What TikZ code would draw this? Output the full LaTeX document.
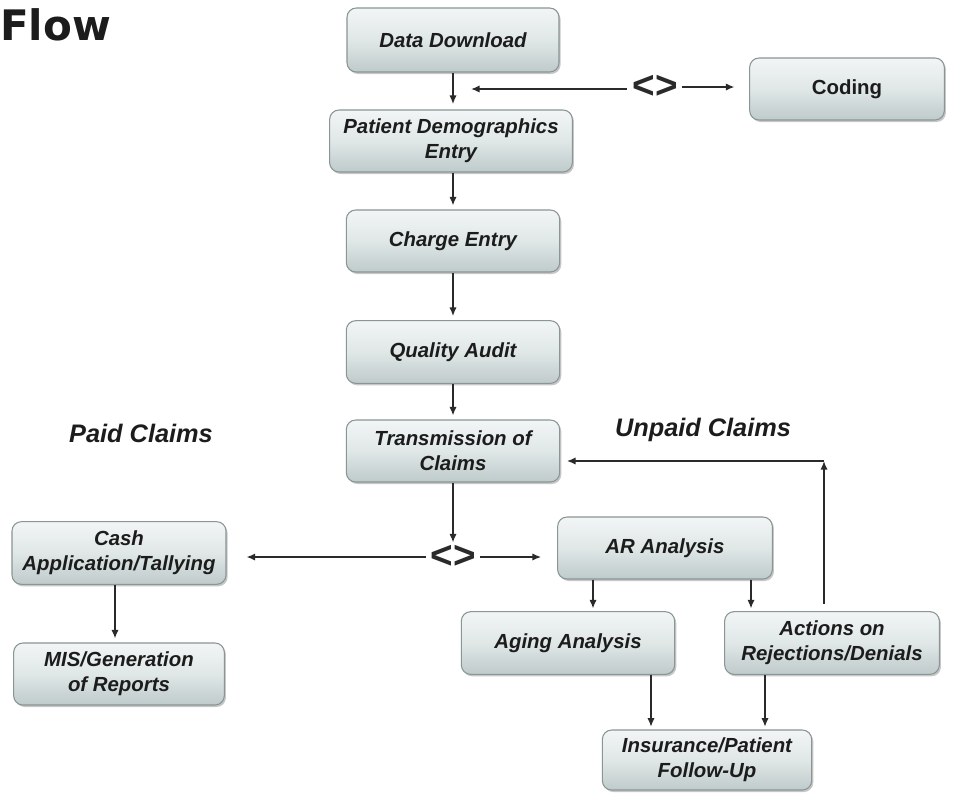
\documentclass[tikz,border=0pt]{standalone}
\usepackage{fontspec}
\setmainfont{Liberation Sans}
\newfontfamily\titlefont{DejaVu Sans}
\usetikzlibrary{shadows,arrows.meta}
\definecolor{boxtop}{HTML}{F2F5F5}
\definecolor{boxmid}{HTML}{E0E7E7}
\definecolor{boxbot}{HTML}{BFCACA}
\definecolor{boxedge}{HTML}{8A9595}
\definecolor{linec}{HTML}{2A2A2A}
\definecolor{txt}{HTML}{1C1C1C}
\begin{document}
\begin{tikzpicture}[x=0.75pt,y=-0.75pt,
  box/.style={rounded corners=7pt, draw=boxedge, line width=0.8pt,
    top color=boxtop, bottom color=boxbot, middle color=boxmid,
    drop shadow={shadow xshift=1.2pt, shadow yshift=-1.5pt, opacity=0.22, fill=black},
    inner sep=0pt, align=center, text=txt,
    font=\fontsize{15.3}{18.5}\selectfont\bfseries\itshape},
  lbl/.style={inner sep=0pt, text=txt, font=\fontsize{19}{22}\selectfont\bfseries\itshape},
  chev/.style={inner sep=0pt, text=linec, font=\fontsize{29}{29}\selectfont\bfseries},
  arr/.style={draw=linec, line width=1.2pt, -{Latex[length=6.5pt,width=5.5pt]}},
  ln/.style={draw=linec, line width=1.2pt}]
\useasboundingbox (0,0) rectangle (959,794);
\fill[white] (0,0) rectangle (959,794);

% title
\node[inner sep=0pt, anchor=base west, text=txt, font=\titlefont\fontsize{31.5}{34}\selectfont\bfseries] (title) at (0,40) {Flow};

% main column
\node[box, minimum width=159pt, minimum height=48pt] (dd) at (453,40) {Data Download};
\node[box, minimum width=182pt, minimum height=46.5pt] (pde) at (451,141) {Patient Demographics\\Entry};
\node[box, minimum width=160pt, minimum height=46.5pt] (ce) at (453,241) {Charge Entry};
\node[box, minimum width=160pt, minimum height=47pt] (qa) at (453,352) {Quality Audit};
\node[box, minimum width=160pt, minimum height=46.5pt] (tc) at (453,451) {Transmission of\\Claims};

% coding
\node[chev] (d1) at (655,87) {<>};
\node[box, minimum width=146pt, minimum height=46.5pt, font=\fontsize{15.3}{18.5}\selectfont\bfseries] (cod) at (847,89) {Coding};
\coordinate (j1) at (471,89);

% paid claims
\node[lbl] (paid) at (141,433) {Paid Claims};
\node[box, minimum width=160.5pt, minimum height=47pt] (cash) at (119,553) {Cash\\Application/Tallying};
\node[box, minimum width=158pt, minimum height=46.5pt] (mis) at (119,674) {MIS/Generation\\of Reports};

% unpaid claims
\node[lbl] (unpaid) at (703,430) {Unpaid Claims};
\node[chev] (d2) at (453,557) {<>};
\node[box, minimum width=161pt, minimum height=46.5pt] (ar) at (665,548) {AR Analysis};
\node[box, minimum width=160pt, minimum height=47pt] (aging) at (568,643) {Aging Analysis};
\node[box, minimum width=161pt, minimum height=47pt] (act) at (832,643) {Actions on\\Rejections/Denials};
\node[box, minimum width=157pt, minimum height=45pt] (ins) at (707,760) {Insurance/Patient\\Follow-Up};
\coordinate (corner) at (824,461);

% connectors main column
\draw[arr, shorten >=4pt] (dd.south) -- (pde.north -| dd.south);
\draw[arr, shorten >=3pt] (pde.south -| dd.south) -- (ce.north);
\draw[arr, shorten >=3pt] (ce.south) -- (qa.north);
\draw[arr, shorten >=3pt] (qa.south) -- (tc.north);
\draw[arr, shorten >=2pt] (tc.south) -- (d2.north);

% coding connectors
\draw[arr, shorten <=4pt] (d1.west |- j1) -- (j1);
\draw[arr, shorten <=3pt, shorten >=11pt] (d1.east) -- (cod.west |- d1.east);

% split
\draw[arr, shorten <=3pt, shorten >=15pt] (d2.west) -- (cash.east |- d2.west);
\draw[arr, shorten <=3pt, shorten >=12pt] (d2.east) -- (ar.west |- d2.east);
\draw[arr, shorten >=3pt] (cash.south -| 115,0) -- (mis.north -| 115,0);

% AR branches
\draw[arr, shorten >=2pt] (ar.south -| 593,0) -- (aging.north -| 593,0);
\draw[arr, shorten >=2pt] (ar.south -| 751,0) -- (act.north -| 751,0);
\draw[arr, shorten >=2pt] (aging.south -| 651,0) -- (ins.north -| 651,0);
\draw[arr, shorten >=2pt] (act.south -| 765,0) -- (ins.north -| 765,0);

% loop back
\draw[arr] (act.north -| corner) ++(0,-7) -- (corner);
\draw[arr, shorten >=5pt] (corner) -- (tc.east |- corner);
\end{tikzpicture}
\end{document}
